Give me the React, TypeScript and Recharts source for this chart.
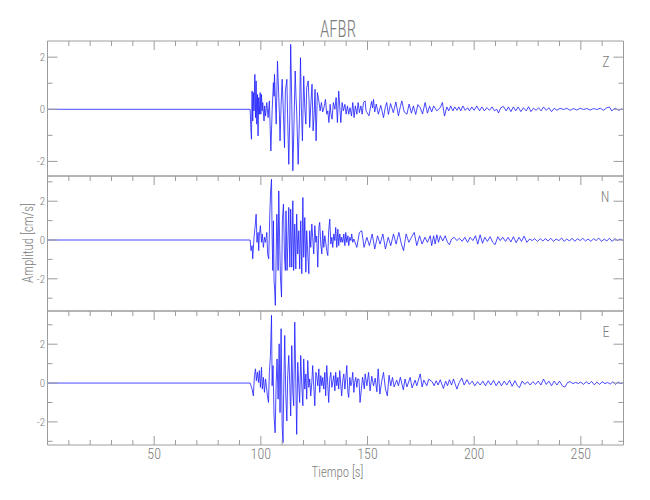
// Seismogram AFBR - three components (Z, N, E) stacked

import { LineChart, Line, XAxis, YAxis } from 'recharts'

const AXIS = '#9c9c9c'
const TEXT = '#7c7c7c'
const TRACE = '#1c1cff'
const FONT = "'Liberation Sans Narrow', 'Roboto Condensed', 'DejaVu Sans Condensed', Roboto, sans-serif"

const timeDomain: [number, number] = [0, 270]
const timeTicks = [10, 20, 30, 40, 50, 60, 70, 80, 90, 100, 110, 120, 130, 140, 150, 160, 170, 180, 190, 200, 210, 220, 230, 240, 250, 260]
const timeLabels = [50, 100, 150, 200, 250]

const zTicks = [-2, -1, 0, 1, 2]
const neTicks = [-3, -2, -1, 0, 1, 2, 3]
const ampLabels = [-2, 0, 2]

const zDomain: [number, number] = [-2.56, 2.62]
const nDomain: [number, number] = [-3.66, 3.3]
const eDomain: [number, number] = [-3.19, 3.71]

const channels = ['Z', 'N', 'E']

// [tiempo s, amplitud cm/s]
const zTrace: [number, number][] = [
  [0, 0], [95.0, 0], [95.3, -0.7], [95.6, -1.15], [95.9, 0.7], [96.2, -0.45], [96.5, 0.64], [96.8, -0.06],
  [97.2, 1.34], [97.5, -0.32], [97.8, 1.09], [98.1, -0.57], [98.4, 0.57], [98.7, -1.02], [99.0, 0.45],
  [99.3, -0.19], [99.7, 0.64], [100.0, -0.19], [100.3, 0.57], [100.6, -0.06], [100.9, 0.26], [101.5, -0.45],
  [101.8, 0.13], [102.2, -0.26], [102.8, 0.26], [103.4, -0.32], [104.0, 0.32], [104.7, -1.6], [105.3, -0.06],
  [105.9, 1.02], [106.2, 0.5], [106.4, 1.34], [107.2, -0.57], [107.8, 1.85], [108.7, -0.19], [109.0, -1.21],
  [109.5, 0.19], [110.0, 1.15], [110.6, -0.19], [111.1, -1.47], [111.5, 0.7], [112.2, 1.15], [112.6, -0.45],
  [113.1, -2.11], [113.6, -0.19], [114.0, 2.49], [114.5, 0.19], [115.0, -2.36], [115.6, -0.32], [116.1, 1.47],
  [116.5, 0.45], [116.8, -0.06], [117.5, -2.11], [118.1, -0.32], [118.6, 1.98], [119.0, 0.06], [119.5, -1.21],
  [120.1, 1.28], [120.6, 0.06], [121.1, -0.57], [121.5, 0.83], [122.2, 1.09], [122.6, 0.32], [122.9, -0.7],
  [123.4, 0.13], [124.0, 0.96], [124.5, -0.83], [125.0, -0.19], [125.4, 0.77], [125.9, -1.21], [126.5, 0.64],
  [127.2, 0.32], [127.8, -0.06], [128.4, 0.26], [129.0, -0.1], [129.7, 0.1], [130.3, 0.38], [130.9, -0.19],
  [131.4, -0.06], [131.9, -0.51], [132.5, 0.19], [132.9, -0.19], [133.4, -0.38], [134.0, 0.26], [134.7, 0.0],
  [135.3, 0.45], [135.9, -0.51], [136.5, 0.7], [137.5, -0.51], [138.1, 0.26], [138.7, -0.06], [139.4, 0.19],
  [140.0, -0.19], [140.6, 0.13], [141.2, -0.19], [141.8, 0.06], [142.5, -0.26], [143.1, 0.26], [143.7, -0.32],
  [144.3, 0.13], [145.0, -0.19], [145.6, 0.26], [146.2, -0.13], [146.9, 0.13], [147.5, -0.19], [148.1, 0.26],
  [148.9, 0.32], [149.3, -0.06], [150.7, -0.25], [151.9, 0.3], [152.4, 0.05], [152.8, 0.38], [153.4, -0.1],
  [154.1, 0.2], [155.1, -0.19], [156.2, 0.15], [157.5, -0.32], [158.4, 0.1], [159.0, 0.26], [159.8, -0.2],
  [160.8, 0.22], [162.1, -0.13], [163.3, 0.28], [164.5, -0.25], [165.4, 0.1], [166.1, 0.32], [167.2, -0.1],
  [168.5, -0.19], [169.5, 0.2], [170.6, -0.15], [171.5, 0.13], [172.6, -0.2], [173.6, 0.18], [174.7, 0.06],
  [175.8, -0.18], [177.0, 0.26], [178.1, -0.15], [179.1, 0.12], [180.1, -0.1], [181.0, 0.13], [182.5, -0.06],
  [184.1, 0.06], [185.1, 0.26], [186.1, -0.26], [187.2, 0.09], [188.1, -0.06], [189.0, 0.13], [190.0, -0.06],
  [190.9, 0.09], [191.9, -0.04], [192.8, 0.09], [193.7, -0.06], [194.7, 0.13], [195.8, -0.04], [196.9, 0.06],
  [197.8, -0.06], [198.9, 0.09], [200.0, -0.04], [201.2, 0.13], [202.5, -0.06], [203.6, 0.09], [204.8, -0.06],
  [206.0, 0.06], [207.2, -0.04], [208.4, 0.09], [209.5, -0.06], [210.6, 0.0], [211.4, -0.14], [212.5, 0.06],
  [213.7, 0.11], [215.0, -0.06], [216.1, 0.09], [217.2, -0.09], [218.4, 0.09], [219.5, -0.06], [220.6, 0.09],
  [221.9, -0.09], [223.1, 0.06], [224.4, -0.06], [225.5, 0.1], [226.6, -0.09], [227.8, 0.04], [229.1, -0.04],
  [230.2, 0.06], [231.4, -0.06], [232.5, 0.09], [233.8, -0.04], [235.0, 0.06], [236.3, -0.09], [237.5, 0.04],
  [238.8, -0.04], [240.3, 0.04], [241.9, -0.01], [243.4, 0.04], [245.0, -0.04], [246.6, 0.03], [248.1, -0.03],
  [249.7, 0.04], [251.3, -0.01], [252.8, 0.03], [254.4, -0.03], [256.0, 0.03], [257.5, -0.01], [259.1, 0.04],
  [260.6, -0.04], [262.2, 0.06], [263.4, 0.09], [264.5, -0.06], [266.1, 0.04], [267.7, -0.04], [269.2, 0.01],
  [270.0, -0.01],
]

const nTrace: [number, number][] = [
  [0, 0], [95.0, 0], [95.4, -0.55], [95.9, -0.29], [96.2, -0.97], [96.8, 0.14], [97.3, 0.65], [97.8, 1.33],
  [98.2, -0.12], [98.7, 0.39], [99.0, -0.55], [99.3, 0.22], [99.8, 0.74], [100.3, -0.12], [100.7, 0.31],
  [101.2, -0.38], [101.7, 0.14], [102.2, -0.12], [102.8, 0.39], [103.2, -0.72], [103.7, -0.97], [104.2, 1.33],
  [104.6, 2.53], [105.0, 3.13], [105.3, 0.14], [105.6, -1.57], [105.9, 0.99], [106.2, -2.09], [106.5, -2.6],
  [106.8, -3.37], [107.2, -0.72], [107.5, 1.33], [107.8, 0.14], [108.1, -1.57], [108.4, 2.53], [108.9, -0.55],
  [109.2, -1.91], [109.7, -2.94], [110.1, 0.99], [110.6, 1.85], [111.1, -0.89], [111.5, -1.57], [111.8, 1.5],
  [112.3, -1.57], [112.6, -0.38], [113.1, 1.68], [113.6, -1.4], [114.0, 1.59], [114.5, -1.4], [115.0, 2.02],
  [115.4, -1.57], [115.9, 0.82], [116.4, -1.49], [116.8, 1.33], [117.3, -0.72], [117.8, 0.48], [118.2, -1.49],
  [118.7, 0.99], [119.2, -1.74], [119.7, 2.19], [120.1, -0.89], [120.6, 1.16], [121.1, -1.66], [121.5, 0.48],
  [122.0, -0.72], [122.5, -1.74], [122.9, 0.48], [123.4, -0.38], [123.9, 0.82], [124.3, 0.14], [124.8, -0.72],
  [125.3, 0.74], [125.8, -0.12], [126.2, 0.2], [126.7, -1.4], [127.2, 0.65], [127.6, 0.91], [128.1, -0.21],
  [128.6, -0.72], [129.0, 0.48], [129.5, -0.38], [130.0, 0.22], [130.4, -0.12], [130.9, -0.55], [131.4, -0.8],
  [131.8, 0.48], [132.3, 1.08], [132.8, -0.21], [133.3, 0.14], [133.7, -0.38], [134.2, 0.31], [134.7, -0.03],
  [135.1, 0.65], [135.6, -0.38], [136.1, 0.56], [136.5, -0.29], [137.0, 0.31], [137.5, -0.12], [137.9, 0.14],
  [138.4, -0.12], [138.9, 0.31], [139.4, -0.29], [139.8, 0.39], [140.3, -0.12], [140.8, 0.22], [141.2, -0.29],
  [141.7, 0.14], [142.2, -0.03], [142.6, 0.31], [143.1, -0.12], [143.6, 0.05], [145.0, -0.38], [146.2, 0.39],
  [147.3, 0.48], [148.4, -0.38], [149.7, 0.14], [150.9, -0.29], [152.2, 0.31], [153.4, -0.46], [154.7, 0.22],
  [155.9, -0.21], [157.2, 0.31], [158.4, -0.46], [159.7, 0.14], [160.9, -0.29], [162.2, 0.31], [163.4, -0.21],
  [164.7, 0.39], [165.9, -0.21], [166.9, -0.55], [168.1, 0.31], [169.4, -0.12], [170.6, 0.14], [171.9, 0.39],
  [173.1, -0.29], [174.4, 0.22], [175.6, -0.21], [176.9, 0.14], [178.1, -0.12], [179.4, 0.22], [180.1, -0.29],
  [181.0, 0.22], [181.7, -0.21], [182.5, 0.27], [183.3, -0.12], [184.1, 0.22], [185.3, -0.05], [186.4, 0.22],
  [187.5, -0.12], [188.4, -0.24], [189.4, 0.05], [190.6, 0.14], [191.9, -0.03], [193.1, 0.09], [194.4, -0.07],
  [195.6, 0.14], [196.9, -0.12], [198.1, 0.14], [199.4, -0.03], [200.6, 0.22], [201.7, -0.21], [202.8, 0.27],
  [203.9, -0.17], [205.0, 0.14], [206.2, -0.07], [207.5, 0.17], [208.7, -0.12], [209.8, -0.24], [211.1, 0.17],
  [212.2, -0.03], [213.4, 0.14], [214.7, -0.07], [215.9, 0.14], [217.2, -0.1], [218.4, 0.17], [219.7, -0.14],
  [221.0, 0.14], [222.2, -0.07], [223.4, 0.2], [224.7, -0.12], [226.0, 0.05], [227.2, -0.03], [228.4, 0.07],
  [229.7, -0.07], [231.0, 0.07], [232.2, -0.05], [233.4, 0.07], [234.7, -0.05], [235.9, 0.09], [237.2, -0.07],
  [238.4, 0.05], [239.7, -0.03], [241.0, 0.1], [242.2, -0.07], [243.4, 0.05], [244.7, -0.05], [245.9, 0.09],
  [247.2, -0.07], [248.4, 0.07], [249.7, -0.03], [250.9, 0.09], [252.2, -0.05], [253.4, 0.05], [254.7, -0.07],
  [256.0, 0.07], [257.2, -0.03], [258.4, 0.1], [259.7, -0.07], [261.0, 0.05], [262.2, -0.05], [263.4, 0.09],
  [264.7, -0.07], [265.9, 0.07], [267.2, -0.03], [268.4, 0.05], [269.7, -0.02],
]

const eTrace: [number, number][] = [
  [0, 0], [95.0, 0], [95.4, -0.14], [95.9, -0.31], [96.5, -0.66], [97.0, 0.38], [97.5, 0.73], [97.9, 0.12],
  [98.4, 0.55], [98.9, 0.03], [99.3, 0.64], [99.8, -0.22], [100.3, 0.81], [100.7, -0.31], [101.2, 0.29],
  [101.7, -0.48], [102.2, 0.21], [102.6, -0.14], [103.1, -0.66], [103.6, -1.0], [104.0, 0.55], [104.5, 1.42],
  [105.0, 3.49], [105.3, -0.14], [105.7, 0.9], [106.2, -1.69], [106.7, -2.56], [107.2, 0.03], [107.6, 1.24],
  [108.1, -0.83], [108.6, 2.02], [109.0, -1.52], [109.5, 2.8], [110.0, -2.21], [110.4, -3.07], [110.7, -0.48],
  [111.2, 2.45], [111.7, -0.66], [112.2, -1.95], [112.6, 0.38], [113.1, 1.42], [113.6, -0.14], [114.0, -1.69],
  [114.5, 1.93], [115.0, -0.48], [115.4, -1.17], [115.9, 3.14], [116.4, 0.03], [116.8, -2.64], [117.3, 1.07],
  [117.8, -0.14], [118.2, -1.0], [118.7, 1.42], [119.2, -0.14], [119.7, -1.17], [120.1, 1.24], [120.6, -0.31],
  [121.1, 0.47], [121.5, -0.83], [122.0, 1.16], [122.5, -0.22], [122.9, 0.21], [123.4, -0.66], [123.9, 0.03],
  [124.3, 0.9], [124.8, -0.14], [125.3, -1.17], [125.8, 0.55], [126.2, 0.38], [126.7, -0.14], [127.2, 0.73],
  [127.6, -0.48], [128.1, 0.38], [128.6, -0.14], [129.0, 0.29], [129.5, -0.31], [130.0, 0.55], [130.4, -0.66],
  [130.9, 0.9], [131.4, -0.14], [131.8, -1.0], [132.3, 0.21], [132.8, 0.55], [133.3, -0.22], [133.7, 0.03],
  [134.2, 0.38], [134.7, -0.4], [135.1, 0.55], [135.6, -0.14], [136.1, 0.29], [136.5, -0.31], [137.0, 0.64],
  [137.5, -0.14], [137.9, -0.66], [138.4, 0.12], [138.9, 0.47], [139.4, -0.31], [139.8, 0.21], [140.3, 0.9],
  [140.8, -0.48], [141.2, -0.74], [141.7, 0.29], [142.2, -0.14], [142.6, 0.03], [143.1, 0.55], [143.6, -0.48],
  [144.0, 0.03], [144.5, 0.29], [145.0, -0.22], [145.4, 0.21], [146.0, 0.2], [146.5, -1.0], [147.7, 0.3],
  [148.5, -0.3], [148.9, 0.47], [149.7, -0.14], [150.5, 0.55], [151.2, -0.4], [152.0, 0.35], [152.8, -0.15],
  [153.6, 0.25], [154.4, -0.45], [155.0, 0.73], [155.8, -0.57], [156.6, 0.05], [157.5, 0.55], [158.4, -0.3],
  [159.3, -0.66], [160.1, 0.4], [160.9, -0.15], [161.7, 0.29], [162.5, -0.2], [163.7, 0.15], [164.5, -0.14],
  [165.4, 0.3], [166.8, -0.35], [167.6, 0.21], [168.5, -0.2], [170.0, 0.29], [170.9, -0.25], [172.3, 0.15],
  [173.1, -0.14], [174.7, 0.47], [175.6, -0.2], [176.4, 0.15], [177.8, -0.14], [178.7, 0.2], [180.3, 0.07],
  [181.2, -0.14], [182.2, 0.12], [183.1, -0.1], [184.1, 0.17], [185.6, -0.28], [186.6, 0.1], [187.5, -0.14],
  [188.4, 0.17], [189.4, -0.1], [190.3, 0.21], [191.9, -0.31], [193.0, 0.03], [194.2, 0.26], [195.3, -0.1],
  [196.6, 0.17], [197.8, -0.07], [199.1, 0.1], [200.3, -0.14], [201.6, 0.07], [202.8, -0.1], [204.1, 0.1],
  [205.3, -0.14], [206.6, 0.12], [207.8, -0.1], [209.1, 0.14], [210.3, -0.14], [211.6, 0.1], [212.8, -0.14],
  [214.1, 0.1], [215.3, -0.1], [216.6, 0.14], [217.8, -0.17], [219.1, 0.12], [220.3, -0.14], [221.2, -0.24],
  [222.5, 0.1], [223.8, -0.07], [225.0, 0.07], [226.2, -0.1], [227.5, 0.07], [228.8, -0.07], [230.0, 0.1],
  [231.3, -0.1], [232.5, 0.21], [233.8, -0.07], [235.0, 0.1], [236.3, -0.14], [237.5, 0.1], [238.8, -0.1],
  [240.0, 0.1], [241.3, -0.14], [242.5, -0.21], [243.8, 0.03], [245.0, 0.07], [246.3, -0.03], [247.5, 0.03],
  [248.8, -0.02], [250.0, 0.05], [251.3, -0.07], [252.5, 0.07], [253.8, -0.05], [255.0, 0.09], [256.3, -0.09],
  [257.5, 0.05], [258.8, -0.07], [260.0, 0.07], [261.3, -0.03], [262.5, 0.03], [263.8, -0.05], [265.0, 0.07],
  [266.3, -0.07], [267.5, 0.05], [268.8, -0.03], [270.0, 0.02],
]

const LEFT = 47.5
const RIGHT_MARGIN = 25.5

function LeftTick(props: any) {
  const { x, y, payload } = props
  const major = ampLabels.includes(payload.value)
  return (
    <g>
      <line x1={x} x2={x + (major ? 10 : 5)} y1={y} y2={y} stroke={AXIS} strokeWidth={1} />
      {major && (
        <text x={x - 2.5} y={y + 3.8} textAnchor="end" fontSize={11} fill={TEXT} fontFamily={FONT} fontWeight={300}>
          {payload.value}
        </text>
      )}
    </g>
  )
}

function RightTick(props: any) {
  const { x, y, payload } = props
  const major = ampLabels.includes(payload.value)
  return <line x1={x} x2={x - (major ? 10 : 5)} y1={y} y2={y} stroke={AXIS} strokeWidth={1} />
}

function TopTick(props: any) {
  const { x, y, payload } = props
  const major = timeLabels.includes(payload.value)
  return <line x1={x} x2={x} y1={y} y2={y + (major ? 9 : 5)} stroke={AXIS} strokeWidth={1} />
}

function BottomTick(props: any) {
  const { x, y, payload } = props
  const major = timeLabels.includes(payload.value)
  return (
    <g>
      <line x1={x} x2={x} y1={y} y2={y - (major ? 9 : 5)} stroke={AXIS} strokeWidth={1} />
      {major && (
        <text x={x} y={y + 13.5} textAnchor="middle" fontSize={14} fill={TEXT} fontFamily={FONT} fontWeight={300}>
          {payload.value}
        </text>
      )}
    </g>
  )
}

interface PanelProps {
  top: number
  height: number
  trace: [number, number][]
  domain: [number, number]
  yTicks: number[]
  channel: string
  last?: boolean
}

function Panel({ top, height, trace, domain, yTicks, channel, last }: PanelProps) {
  const data = trace.map(([t, v]) => ({ t, v }))
  const mb = last ? 40 : 0
  return (
    <div style={{ position: 'absolute', left: 0, top: top - 1 }}>
      <LineChart
        width={650}
        height={height + 2 + mb}
        data={data}
        margin={{ top: 0, right: RIGHT_MARGIN, bottom: mb, left: 0 }}
      >
        <XAxis
          xAxisId="b"
          dataKey="t"
          type="number"
          orientation="bottom"
          domain={timeDomain}
          ticks={timeTicks}
          interval={0}
          height={1}
          allowDataOverflow
          axisLine={{ stroke: AXIS, strokeWidth: 1 }}
          tickLine={false}
          tickSize={0}
          tickMargin={0}
          tick={last ? BottomTick : false}
        />
        <XAxis
          xAxisId="t"
          dataKey="t"
          type="number"
          orientation="top"
          domain={timeDomain}
          ticks={timeTicks}
          interval={0}
          height={1}
          allowDataOverflow
          axisLine={{ stroke: AXIS, strokeWidth: 1 }}
          tickLine={false}
          tickSize={0}
          tickMargin={0}
          tick={TopTick}
        />
        <YAxis
          yAxisId="l"
          dataKey="v"
          type="number"
          orientation="left"
          domain={domain}
          ticks={yTicks}
          interval={0}
          width={LEFT}
          allowDataOverflow
          axisLine={{ stroke: AXIS, strokeWidth: 1 }}
          tickLine={false}
          tickSize={0}
          tickMargin={0}
          tick={LeftTick}
        />
        <YAxis
          yAxisId="r"
          dataKey="v"
          type="number"
          orientation="right"
          domain={domain}
          ticks={yTicks}
          interval={0}
          width={1}
          allowDataOverflow
          axisLine={{ stroke: AXIS, strokeWidth: 1 }}
          tickLine={false}
          tickSize={0}
          tickMargin={0}
          tick={RightTick}
        />
        <Line
          xAxisId="b"
          yAxisId="l"
          type="linear"
          dataKey="v"
          stroke={TRACE}
          strokeWidth={0.8}
          dot={false}
          activeDot={false}
          isAnimationActive={false}
        />
        <Line
          xAxisId="t"
          yAxisId="r"
          type="linear"
          dataKey="v"
          stroke="none"
          dot={false}
          activeDot={false}
          isAnimationActive={false}
        />
      </LineChart>
      <div
        style={{
          position: 'absolute',
          left: 0,
          top: 0,
          width: 650 - RIGHT_MARGIN - 15,
          textAlign: 'right',
          fontFamily: FONT,
          fontWeight: 300,
          fontSize: 14,
          color: TEXT,
          lineHeight: '14px',
          paddingTop: 15,
        }}
      >
        {channel}
      </div>
    </div>
  )
}

export default function App() {
  return (
    <div style={{ position: 'absolute', left: 0, top: 0, width: 650, height: 500, background: '#fff' }}>
      <Panel top={40.5} height={135} trace={zTrace} domain={zDomain} yTicks={zTicks} channel={channels[0]} />
      <Panel top={175.5} height={135} trace={nTrace} domain={nDomain} yTicks={neTicks} channel={channels[1]} />
      <Panel top={310.5} height={134} trace={eTrace} domain={eDomain} yTicks={neTicks} channel={channels[2]} last />
      <svg width={650} height={500} style={{ position: 'absolute', left: 0, top: 0, pointerEvents: 'none' }}>
        <text x={338} y={37} textAnchor="middle" fontSize={23} fill={TEXT} fontFamily={FONT} fontWeight={300} textLength={36} lengthAdjust="spacingAndGlyphs">
          AFBR
        </text>
        <text x={337.5} y={476.5} textAnchor="middle" fontSize={15} fill={TEXT} fontFamily={FONT} fontWeight={300} textLength={52} lengthAdjust="spacingAndGlyphs">
          Tiempo [s]
        </text>
        <text
          x={33}
          y={243}
          textAnchor="middle"
          fontSize={14}
          fill={TEXT}
          fontFamily={FONT}
          fontWeight={300}
          textLength={80}
          lengthAdjust="spacingAndGlyphs"
          transform="rotate(-90 33 243)"
        >
          Amplitud [cm/s]
        </text>
      </svg>
    </div>
  )
}
